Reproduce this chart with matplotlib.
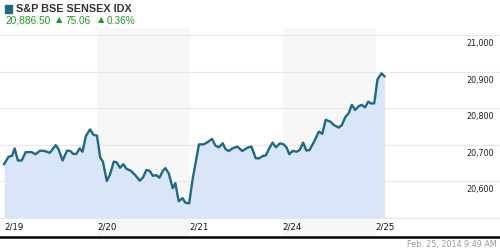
import matplotlib
matplotlib.use("Agg")
import matplotlib.pyplot as plt
import matplotlib.transforms as mtransforms
from matplotlib.patches import Rectangle

plt.rcParams['font.family'] = ['Liberation Sans', 'DejaVu Sans']

# trading-day position (0 = 2/19) and index level
days = [0, 0.048, 0.086, 0.114, 0.148, 0.189, 0.233, 0.297, 0.337, 0.389,
        0.437, 0.492, 0.556, 0.586, 0.630, 0.678, 0.714, 0.744, 0.778, 0.814,
        0.844, 0.881, 0.926, 0.963, 1.0,
        1.035, 1.064, 1.106, 1.141, 1.181, 1.213, 1.248, 1.284, 1.319, 1.365,
        1.412, 1.461, 1.497, 1.532, 1.567, 1.603, 1.638, 1.673, 1.710, 1.737,
        1.773, 1.816, 1.844, 1.880, 1.923, 1.950, 1.993,
        2.029, 2.098, 2.149, 2.196, 2.239, 2.275, 2.312, 2.355, 2.384, 2.421,
        2.457, 2.511, 2.565, 2.620, 2.663, 2.710, 2.747, 2.783, 2.818, 2.855,
        2.891, 2.927, 2.971,
        3.011, 3.043, 3.071, 3.106, 3.152, 3.184, 3.220, 3.255, 3.290, 3.337,
        3.390, 3.426, 3.463, 3.514, 3.550, 3.603, 3.638, 3.673, 3.710, 3.745,
        3.780, 3.822, 3.851, 3.886, 3.922, 3.950, 3.986,
        4.021, 4.064, 4.096]
level = [20647, 20667, 20670, 20690, 20657, 20657, 20680, 20680, 20674, 20684,
         20683, 20678, 20699, 20688, 20657, 20684, 20683, 20675, 20675, 20690,
         20681, 20724, 20742, 20727, 20725,
         20665, 20654, 20601, 20619, 20654, 20652, 20637, 20647, 20634, 20629,
         20617, 20602, 20611, 20631, 20629, 20615, 20617, 20610, 20629, 20636,
         20622, 20581, 20595, 20546, 20554, 20542, 20540,
         20604, 20701, 20701, 20708, 20716, 20698, 20693, 20704, 20688, 20683,
         20690, 20695, 20683, 20692, 20695, 20663, 20663, 20669, 20671, 20690,
         20706, 20693, 20704,
         20701, 20692, 20674, 20683, 20681, 20686, 20706, 20684, 20686, 20708,
         20736, 20730, 20768, 20763, 20754, 20747, 20754, 20775, 20786, 20809,
         20795, 20806, 20809, 20802, 20818, 20813, 20813,
         20879, 20895, 20887]

day_labels = ['2/19', '2/20', '2/21', '2/24', '2/25']
y_ticks = [20500, 20600, 20700, 20800, 20900, 21000]
title = 'S&P BSE SENSEX IDX'
last_value = '20,886.50'
change = '75.06'
change_pct = '0.36%'
stamp = 'Feb. 25, 2014 9:49 AM'

line_color = '#1b6b87'
green = '#1e9e1e'

fig = plt.figure(figsize=(5, 2.5), dpi=100)
ax = fig.add_axes([0, 0.052, 1, 0.836])
ax.set_xlim(-0.044, 5.34)
ax.set_ylim(20448, 21019)

# alternating day bands
for d in (1, 3):
    ax.axvspan(d, d + 1, color='#f7f7f7', lw=0, zorder=0)

ylab_tr = mtransforms.blended_transform_factory(ax.transAxes, ax.transData)
for v in y_ticks:
    ax.axhline(v, color='#e8e8e8', lw=0.8, zorder=1)
    if v > 20500:
        ax.text(0.988, v - 11, f'{v:,}', transform=ylab_tr, ha='right',
                va='top', fontsize=5.8, color='#222222', zorder=5,
                family=['DejaVu Sans'])

ax.fill_between(days, level, 20500, color='#d9e6f8', lw=0, zorder=2)
ax.plot(days, level, color=line_color, lw=1.7, zorder=3,
        solid_joinstyle='round')

for i, lab in enumerate(day_labels):
    ax.text(i, 20474, lab, ha='left', va='center', fontsize=6.2,
            color='#111111', family=['DejaVu Sans'])

ax.set_xticks([])
ax.set_yticks([])
for s in ('top', 'left', 'right'):
    ax.spines[s].set_visible(False)
ax.spines['bottom'].set_color('black')
ax.spines['bottom'].set_linewidth(1.8)

# header
fig.patches.append(Rectangle((5 / 500, 1 - 13 / 250), 7 / 500, 8 / 250,
                             transform=fig.transFigure, color=line_color))
fig.text(16 / 500, 1 - 9 / 250, title, fontsize=7.8, fontweight='bold',
         color='#333333', va='center', ha='left')
fig.text(5 / 500, 1 - 20.5 / 250, last_value, fontsize=7.3, color=green,
         va='center', ha='left')
fig.text(56 / 500, 1 - 20 / 250, '\u25b2', fontsize=6, color=green,
         va='center', ha='left', family=['DejaVu Sans'])
fig.text(66 / 500, 1 - 20.5 / 250, change, fontsize=7.3, color=green,
         va='center', ha='left')
fig.text(98 / 500, 1 - 20 / 250, '\u25b2', fontsize=6, color=green,
         va='center', ha='left', family=['DejaVu Sans'])
fig.text(107 / 500, 1 - 20.5 / 250, change_pct, fontsize=7.3, color=green,
         va='center', ha='left')

fig.text(497 / 500, 1 - 245 / 250, stamp, fontsize=5.8, color='#999999',
         va='center', ha='right', family=['DejaVu Sans'])

fig.savefig('out.png', dpi=100)
